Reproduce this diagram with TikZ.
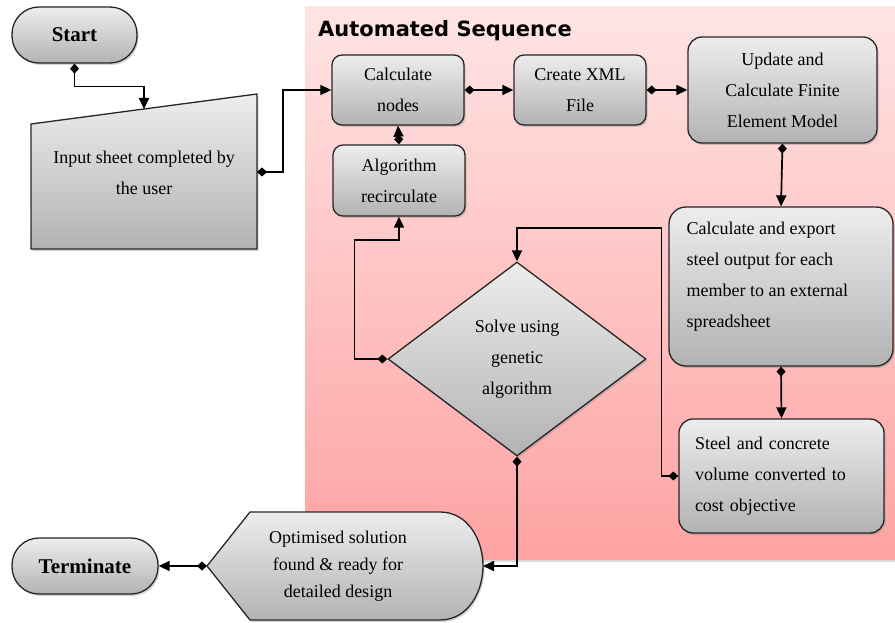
\documentclass[tikz,border=0pt]{standalone}
\usepackage{fontspec}
\setmainfont{Liberation Serif}
\newfontfamily\titlefont{DejaVu Sans}
\usetikzlibrary{arrows.meta,calc,shapes.geometric,shadows}

\definecolor{pinktop}{RGB}{255,228,228}
\definecolor{pinkbottom}{RGB}{254,163,163}

\tikzset{
	link/.style={line width=1.7pt,{Diamond[length=10pt,width=9pt]}-{Triangle[length=11pt,width=10pt]}},
	greyfill/.style={top color=black!7,bottom color=black!30,draw=black!85,line width=1.3pt,
		drop shadow={shadow xshift=1.5pt,shadow yshift=-2pt,opacity=.35}},
	bodytext/.style={align=center,inner sep=0pt,font=\fontsize{18}{31}\selectfont},
	procbox/.style={greyfill,bodytext,rounded corners=10pt},
	pill/.style={greyfill,rounded corners=27pt,inner sep=0pt,font=\fontsize{21}{25}\bfseries\selectfont}
}

\begin{document}
\begin{tikzpicture}[x=1pt,y=-1pt]
			\useasboundingbox (0,0) rectangle (895,623);
			\fill[top color=pinktop,bottom color=pinkbottom,drop shadow={shadow xshift=0pt,shadow yshift=-3pt,opacity=.3}] (305,7) rectangle (895,559);
			\node[anchor=base west,inner sep=0pt,font=\titlefont\fontsize{21}{25}\bfseries\selectfont] (title) at (318,37) {Automated Sequence};

			\node[pill,minimum width=125pt,minimum height=56pt] (start) at (74.5,35) {Start};
			\draw[greyfill] (31,124) coordinate (intl) -- (257,94) coordinate (intr) -- (257,249) -- (31,249) -- cycle;
			\coordinate (intop) at ($(intl)!.5!(intr)$);
			\coordinate (inright) at (257,172);
			\node[bodytext] (input) at (144,173) {Input sheet completed by\\the user};

			\node[procbox,minimum width=132pt,minimum height=70pt] (calc) at (398,90) {Calculate\\nodes};
			\node[procbox,minimum width=132pt,minimum height=70pt] (xml) at (580,90) {Create XML\\File};
			\node[procbox,rounded corners=14pt,minimum width=189pt,minimum height=106pt] (update) at (782.5,90) {Update and\\Calculate Finite\\Element Model};
			\node[procbox,minimum width=132pt,minimum height=71pt] (recirc) at (399,180.5) {Algorithm\\recirculate};

			\node[procbox,rounded corners=17pt,minimum width=224pt,minimum height=159pt] (export) at (781,286.5) {};
			\node[bodytext,align=left,anchor=west] (exporttext) at ($(export.west)+(18,-9.5)$) {Calculate and export\\steel output for each\\member to an external\\spreadsheet};
			\node[procbox,rounded corners=14pt,align=left,text width=173pt,minimum width=205pt,minimum height=114pt] (steel) at (781.5,476) {Steel and concrete\\volume converted to\\cost objective};

			\node[greyfill,bodytext,diamond,aspect=1.33,minimum width=258pt,minimum height=194pt] (solve) at (517,359) {Solve using\\genetic\\algorithm};

			\draw[greyfill] (207,566) coordinate (optleft) -- (250,512) -- (440,512) .. controls (468,512) and (483,540) .. (483,566) coordinate (optright) .. controls (483,592) and (468,620) .. (440,620) -- (250,620) -- cycle;
			\node[bodytext,font=\fontsize{18}{27}\selectfont] (opt) at (338,566) {Optimised solution\\found \& ready for\\detailed design};
			\node[pill,minimum width=146pt,minimum height=56pt] (term) at (85,566) {Terminate};

			\draw[link] (start.south) -- ++(0,23) -| (intop);
			\draw[link] (inright) -- ++(26,0) |- (calc.west);
			\draw[link] (calc.east) -- (xml.west);
			\draw[link] (xml.east) -- (update.west);
			\draw[link] (update.south) -- (export.north);
			\draw[link] (export.south) -- (steel.north);
			\draw[link] (steel.west) -- ++(-17,0) |- ($(solve.north)+(0,-33)$) -- (solve.north);
			\draw[link] (solve.west) -- ++(-33,0) |- ($(recirc.south)+(0,23)$) -- (recirc.south);
			\draw[link] (recirc.north) -- (calc.south);
			\draw[link] (solve.south) |- (optright);
			\draw[link] (optleft) -- (term.east);
		\end{tikzpicture}
\end{document}
